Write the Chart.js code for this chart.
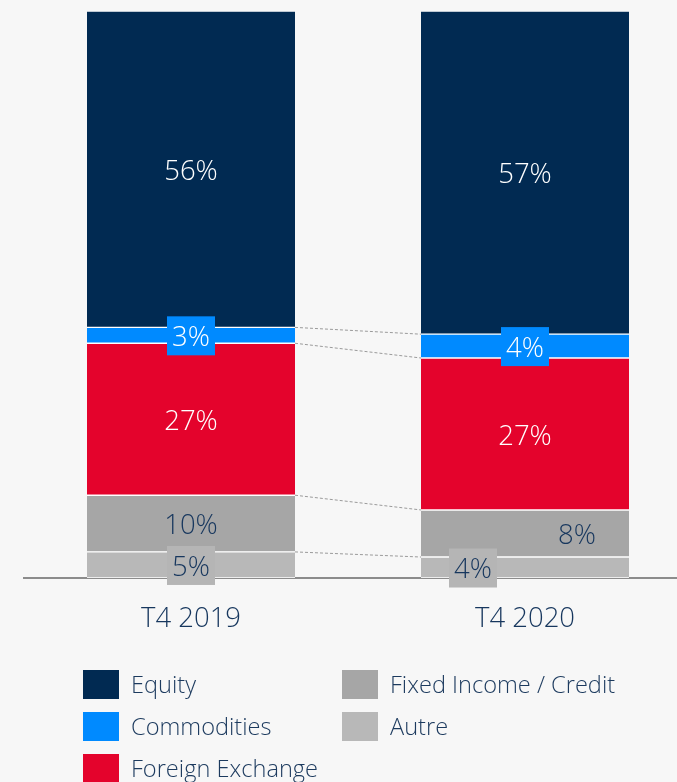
<!DOCTYPE html>
<html>
<head>
<meta charset="utf-8">
<script src="https://cdn.jsdelivr.net/npm/chart.js@4/dist/chart.umd.min.js"></script>
<style>
  html, body { margin: 0; padding: 0; background: #f7f7f7; overflow: hidden; width: 677px; height: 782px; }
  #wrap { position: absolute; left: 0; top: 0; width: 720px; height: 640px; }
  #legend { position: absolute; left: 0; top: 0; width: 677px; height: 782px; pointer-events: none;
            font-family: "Open Sans", sans-serif; font-weight: 350; font-size: 23.6px; color: #1c3a5e; }
  .item { position: absolute; height: 30px; line-height: 30px; white-space: nowrap; }
  .sw { position: absolute; left: 0; top: 0; width: 36px; height: 29px; }
  .lbl { position: absolute; left: 48px; top: -1px; }
</style>
</head>
<body>
<div id="wrap"><canvas id="myChart" width="720" height="640"></canvas></div>
<div id="legend"></div>
<script>
const categories = ["T4 2019", "T4 2020"];

// bottom to top, share of revenue in %
const autre = [4.6, 3.7];
const fixedIncome = [10.0, 8.3];
const foreignExchange = [26.8, 26.8];
const commodities = [2.8, 4.2];
const equity = [55.8, 57.0];

const seriesNames = ["Autre", "Fixed Income / Credit", "Foreign Exchange", "Commodities", "Equity"];
const seriesData = [autre, fixedIncome, foreignExchange, commodities, equity];
const seriesColors = ["#b8b8b8", "#a6a6a6", "#e4032c", "#008aff", "#012a52"];

// how each series' value labels look
const labelText = ["#17375e", "#17375e", "#ffffff", "#ffffff", "#ffffff"];
const labelBox = ["#b5b5b5", null, null, "#008aff", null];
const labelShift = [[0, -52], [0, 52], [0, 0], [0, 0], [0, 0]];

const datasets = seriesData.map((d, i) => ({
  label: seriesNames[i],
  data: d,
  backgroundColor: seriesColors[i],
  borderColor: "#ffffff",
  borderWidth: { top: 1, bottom: 1, left: 0, right: 0 },
  borderSkipped: false,
  barThickness: 208
}));

const connectors = {
  id: "connectors",
  beforeDatasetsDraw(chart) {
    const ctx = chart.ctx;
    ctx.save();
    ctx.strokeStyle = "#9a9a9a";
    ctx.lineWidth = 1;
    ctx.setLineDash([3, 2]);
    for (let i = 0; i < 4; i++) {
      const bars = chart.getDatasetMeta(i).data;
      const a = bars[0], b = bars[1];
      ctx.beginPath();
      ctx.moveTo(a.x + a.width / 2, a.y);
      ctx.lineTo(b.x - b.width / 2, b.y);
      ctx.stroke();
    }
    ctx.restore();
  }
};

const valueLabels = {
  id: "valueLabels",
  afterDraw(chart) {
    const ctx = chart.ctx;
    ctx.save();
    ctx.font = "350 27.5px 'Open Sans', sans-serif";
    ctx.textAlign = "center";
    ctx.textBaseline = "middle";
    chart.data.datasets.forEach((ds, i) => {
      chart.getDatasetMeta(i).data.forEach((bar, j) => {
        const x = bar.x + labelShift[i][j];
        const y = (bar.y + bar.base) / 2;
        const txt = Math.round(ds.data[j]) + "%";
        if (labelBox[i]) {
          ctx.fillStyle = labelBox[i];
          ctx.fillRect(x - 24, y - 19, 48, 39);
        }
        ctx.fillStyle = labelText[i];
        ctx.fillText(txt, x, y + 3);
      });
    });
    ctx.restore();
  }
};

const myChart = new Chart(document.getElementById("myChart"), {
  type: "bar",
  data: { labels: categories, datasets: datasets },
  options: {
    responsive: false,
    animation: false,
    layout: { padding: { left: 24, right: 28, top: 11, bottom: 0 } },
    plugins: { legend: { display: false }, tooltip: { enabled: false } },
    scales: {
      x: {
        stacked: true,
        grid: { display: false, drawTicks: false },
        border: { color: "#8c8c8c", width: 2 },
        ticks: { color: "#17375e", font: { family: "'Open Sans', sans-serif", size: 27.5, weight: 350 }, padding: 25 },
        afterFit(scale) { scale.height = 62; }
      },
      y: {
        stacked: true,
        display: false,
        min: 0,
        max: 100
      }
    }
  },
  plugins: [connectors, valueLabels]
});

// legend, column by column like the original
const legendOrder = [4, 3, 2, 1, 0];
const legendPos = [[83, 670], [83, 712], [83, 754], [342, 670], [342, 712]];
const legend = document.getElementById("legend");
legendOrder.forEach((k, n) => {
  const item = document.createElement("div");
  item.className = "item";
  item.style.left = legendPos[n][0] + "px";
  item.style.top = legendPos[n][1] + "px";
  item.innerHTML = `<div class="sw" style="background:${seriesColors[k]}"></div><span class="lbl">${seriesNames[k]}</span>`;
  legend.appendChild(item);
});
</script>
</body>
</html>
